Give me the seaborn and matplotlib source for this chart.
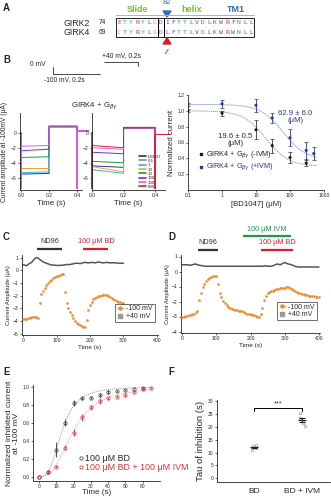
import numpy as np
import pandas as pd
import matplotlib
matplotlib.use("Agg")
import matplotlib.pyplot as plt
import seaborn as sns

sns.set_style("ticks")
plt.rcParams['font.family'] = ['Liberation Sans', 'DejaVu Sans']
plt.rcParams['axes.linewidth'] = 0.6
plt.rcParams['xtick.major.width'] = 0.5
plt.rcParams['ytick.major.width'] = 0.5
plt.rcParams['xtick.major.size'] = 1.5
plt.rcParams['ytick.major.size'] = 1.5
plt.rcParams['xtick.major.pad'] = 1
plt.rcParams['ytick.major.pad'] = 1

# ---------------- data ----------------
# A: alignment
seq_names = ["GIRK2", "GIRK4"]
seq_starts = ["74", "69"]
seq_text = ["ETYRYLCDIFTTLVDLKWRFNLL", "CTYRYLGDLFTTLVDLKWRWNLL"]

# B: current traces at -100 mV (start/end of step), +40 mV, and tail level
conc_labels = ["DMSO", "0.1", "1", "10", "30", "100", "300", "500"]
conc_colors = ["#2a2f8f", "#8a8a8a", "#2ab3e6", "#f2a22a", "#1f9b3c",
               "#7a2fbd", "#e35fd3", "#e01b2c"]
trace_noivm_keys = ["DMSO", "1", "10", "30", "100", "300"]
trace_noivm_start = [-5.5, -5.3, -4.7, -3.3, -2.4, -1.8]
trace_noivm_end = [-5.4, -5.2, -4.7, -3.2, -2.2, -1.7]
trace_noivm_step = [0.85, 0.8, 0.8, 0.8, 0.85, 0.75]
trace_noivm_tail = 0.25

trace_ivm_keys = ["DMSO", "1", "10", "30", "100", "300", "500"]
trace_ivm_start = [-4.4, -4.9, -4.5, -3.8, -2.6, -2.0, -1.7]
trace_ivm_end = [-4.6, -5.4, -5.2, -4.0, -2.8, -2.2, -2.0]
trace_ivm_step = [0.6, 0.6, 0.65, 0.6, 0.6, 0.6, 0.7]
trace_ivm_tail = -0.25
spike_level = -7.4

# B: dose response
bd_conc_noivm = [0.1, 1, 10, 30, 100, 300]
cur_noivm = [1.00, 0.97, 0.76, 0.56, 0.41, 0.34]
err_noivm = [0.02, 0.03, 0.12, 0.09, 0.07, 0.04]
bd_conc_ivm = [0.1, 1, 10, 30, 100, 300, 500]
cur_ivm = [1.08, 1.09, 1.07, 0.91, 0.66, 0.50, 0.46]
err_ivm = [0.02, 0.05, 0.08, 0.06, 0.11, 0.11, 0.08]
ic50_noivm, ic50_noivm_err = 19.6, 0.5
ic50_ivm, ic50_ivm_err = 62.9, 6.0

# C: time course, ND96 then 100 uM BD
c_time = list(range(0, 305, 5))
c_m100 = [-3.85, -3.85, -3.82, -3.8, -3.78, -3.72, -3.66, -3.65, -3.7, -3.75,
          -2.55, -1.9, -1.6, -1.38, -1.18, -1.0, -0.86, -0.75, -0.64, -0.55,
          -0.48, -0.42, -0.37, -0.33, -0.3, -1.75, -2.6, -3.0, -3.3, -3.55,
          -3.8, -4.0, -4.15, -4.25, -4.35, -4.4, -4.45, -4.45, -3.9, -3.15,
          -2.75, -2.5, -2.3, -2.2, -2.12, -2.05, -2.0, -1.97, -1.95, -1.93,
          -1.95, -2.0, -2.1, -2.2, -2.27, -2.35, -2.42, -2.48, -2.53, -2.57, -2.6]
c_p40 = [0.45, 0.4, 0.35, 0.45, 0.55, 0.6, 0.75, 0.9, 1.0, 0.95,
         0.85, 0.75, 0.65, 0.6, 0.55, 0.5, 0.45, 0.42, 0.4, 0.4,
         0.38, 0.38, 0.38, 0.4, 0.4, 0.42, 0.45, 0.45, 0.45, 0.48,
         0.5, 0.55, 0.55, 0.55, 0.52, 0.55, 0.6, 0.62, 0.6, 0.58,
         0.6, 0.62, 0.6, 0.58, 0.62, 0.65, 0.62, 0.6, 0.58, 0.6,
         0.62, 0.6, 0.58, 0.58, 0.6, 0.58, 0.57, 0.56, 0.55, 0.55, 0.55]
c_bars = [("ND96", 42, 117, "#333333"), ("100 μM BD", 180, 255, "#e0192b")]

# D: time course, ND96, 100 uM IVM then 100 uM BD
d_time = list(range(0, 405, 5))
d_m100 = [-3.0, -3.0, -2.98, -2.95, -2.92, -2.9, -2.85, -2.8, -2.72, -2.6,
          -1.9, -1.4, -1.05, -0.8, -0.62, -0.5, -0.42, -0.36, -0.32, -0.3,
          -0.3, -0.85, -1.4, -1.7, -1.95, -2.1, -2.25, -2.35, -2.42, -2.48,
          -2.52, -2.55, -2.58, -2.6, -2.62, -2.66, -2.7, -2.75, -2.8, -2.83,
          -2.86, -2.88, -2.92, -2.95, -3.0, -3.02, -2.85, -2.4, -1.9, -1.6,
          -1.45, -1.38, -1.32, -1.27, -1.22, -1.18, -1.15, -1.12, -1.1, -1.08,
          -1.08, -1.05, -1.05, -1.1, -1.18, -1.25, -1.32, -1.38, -1.42, -1.46,
          -1.5, -1.53, -1.56, -1.58, -1.6, -1.62, -1.64, -1.66, -1.68, -1.7, -1.72]
d_p40 = [0.45, 0.45, 0.45, 0.45, 0.42, 0.42, 0.45, 0.48, 0.5, 0.45,
         0.42, 0.4, 0.38, 0.36, 0.35, 0.35, 0.35, 0.35, 0.35, 0.35,
         0.35, 0.35, 0.35, 0.35, 0.35, 0.35, 0.35, 0.35, 0.35, 0.35,
         0.35, 0.35, 0.35, 0.35, 0.35, 0.35, 0.35, 0.35, 0.35, 0.35,
         0.35, 0.35, 0.35, 0.35, 0.35, 0.35, 0.35, 0.35, 0.38, 0.38,
         0.35, 0.35, 0.35, 0.38, 0.42, 0.48, 0.5, 0.45, 0.48, 0.55,
         0.6, 0.55, 0.5, 0.48, 0.45, 0.4, 0.35, 0.32, 0.3, 0.3,
         0.3, 0.3, 0.3, 0.3, 0.3, 0.3, 0.3, 0.3, 0.3, 0.3, 0.3]
d_bars = [("ND96", 47, 105, "#333333", 0), ("100 μM IVM", 177, 318, "#1e9a45", 1),
          ("100 μM BD", 230, 325, "#e0192b", 0)]

# E: normalised inhibition time course
e_time_bd = [0, 5, 10, 15, 20, 25, 30, 35, 40, 45, 50, 55, 60]
e_bd = [0.0, 0.05, 0.30, 0.60, 0.82, 0.87, 0.88, 0.91, 0.94, 0.95, 0.96, 0.98, 0.99]
e_bd_err = [0.0, 0.01, 0.08, 0.04, 0.03, 0.02, 0.02, 0.02, 0.02, 0.01, 0.01, 0.01, 0.01]
e_time_ivm = [0, 5, 10, 15, 20, 25, 30, 35, 40, 45, 50, 55, 60, 65]
e_ivm = [0.0, 0.05, 0.11, 0.32, 0.49, 0.66, 0.77, 0.84, 0.87, 0.89, 0.91, 0.94, 0.97, 0.99]
e_ivm_err = [0.0, 0.01, 0.02, 0.03, 0.04, 0.04, 0.03, 0.03, 0.02, 0.02, 0.02, 0.01, 0.01, 0.01]
e_t50 = [13.2, 19.7]
e_hill = [3.1, 2.8]

# F: tau of inhibition
f_groups = ["BD", "BD + IVM"]
f_tau_bd = [11.0, 11.6, 12.0, 12.4, 13.0]
f_tau_ivm = [20.3, 21.5, 22.5, 23.6, 25.4]

# ---------------- figure ----------------
W, H = 331, 500
fig = plt.figure(figsize=(W / 100, H / 100), dpi=100)


def rect(x0, y0, x1, y1):
    return [x0 / W, 1 - y1 / H, (x1 - x0) / W, (y1 - y0) / H]


ann = fig.add_axes([0, 0, 1, 1])
ann.set_xlim(0, W)
ann.set_ylim(H, 0)
ann.axis("off")
ann.patch.set_alpha(0)

TICK = 3.6
LAB = 5.6

for letter, (x, y) in zip("ABCDEF", [(3, 8), (3, 60), (3, 237), (168, 237), (3, 372), (168, 372)]):
    ann.text(x, y, letter, fontsize=7, fontweight="bold", va="center", ha="left")

# ---- A: alignment ----
aa_color = {}
for c in "AILMFWV":
    aa_color[c] = "#4a55c8"
for c in "KR":
    aa_color[c] = "#e0303c"
for c in "DE":
    aa_color[c] = "#c03cc8"
for c in "STNQ":
    aa_color[c] = "#3aa83a"
for c in "HY":
    aa_color[c] = "#2aa8b8"
aa_color["C"] = "#e07890"
aa_color["G"] = "#e89a30"
aa_color["P"] = "#d8c020"

x0_seq, dx = 116, 6.0
for row, (nm, st, sq) in enumerate(zip(seq_names, seq_starts, seq_text)):
    yy = 23 + row * 9.5
    ann.text(63, yy, nm, fontsize=6.3, va="center", ha="left")
    ann.text(99, yy, st, fontsize=4.8, va="center", ha="left")
    for i, ch in enumerate(sq):
        ann.text(x0_seq + dx * (i + 0.5), yy, ch, fontsize=4.6, family="DejaVu Sans Mono",
                 color=aa_color.get(ch, "#555555"), va="center", ha="center")
nseq = len(seq_text[0])
for (a, b) in [(0, 7), (7, 8), (8, nseq)]:
    ann.add_patch(plt.Rectangle((x0_seq + dx * a, 18), dx * (b - a), 19, fill=False, lw=0.6, ec="black"))
ann.plot([x0_seq, x0_seq + dx * 8], [15, 15], color="#9ccf5a", lw=0.7)
ann.plot([x0_seq + dx * 8, x0_seq + dx * nseq], [15, 15], color="#9ccf5a", lw=0.7)
ann.text(138, 9, "Slide", color="#7dbb3a", fontsize=6.5, va="center", ha="center", fontweight="bold")
ann.text(192, 9, "helix", color="#7dbb3a", fontsize=6.5, va="center", ha="center", fontweight="bold")
ann.text(236, 9, "TM1", color="#2f6fb8", fontsize=6.5, va="center", ha="center", fontweight="bold")
ann.text(167, 3, "82", color="#2f6fb8", fontsize=5.5, va="center", ha="center")
ann.add_patch(plt.Polygon([[163, 11], [171, 11], [167, 17]], color="#2f6fb8"))
ann.add_patch(plt.Polygon([[163, 44], [171, 44], [167, 38]], color="#e0192b"))
ann.text(167, 52, "//", color="#e0192b", fontsize=5.5, va="center", ha="center", style="italic")

# ---- B: voltage protocol ----
ann.text(121, 56, "+40 mV, 0.2s", fontsize=4.8, va="center", ha="center")
ann.plot([104, 138, 138], [62, 62, 66], color="black", lw=0.5)
ann.text(30, 65, "0 mV", fontsize=4.8, va="center", ha="left")
ann.plot([53, 53, 100], [67, 74, 74], color="black", lw=0.5)
ann.text(44, 80, "-100 mV, 0.2s", fontsize=4.8, va="center", ha="left")
ann.text(95, 106, "GIRK4 + G$_{\\beta\\gamma}$", fontsize=5.6, va="center", ha="center")
ann.text(54, 117, "(-IVM)", fontsize=5.6, va="center", ha="center")
ann.text(128, 117, "(+IVM)", fontsize=5.6, va="center", ha="center", color="#2a3590")

color_of = dict(zip(conc_labels, conc_colors))


def draw_traces(ax, keys, starts, ends, steps, tail, t_end):
    for k, a, b, p in zip(keys, starts, ends, steps):
        t = [0, 0, 0, 0.2, 0.2, 0.4, 0.4, 0.4, t_end]
        v = [0, spike_level, a, b, p, p, spike_level, tail, tail]
        sns.lineplot(x=t, y=v, ax=ax, color=color_of[k], lw=0.7, sort=False,
                     estimator=None, clip_on=False)


axb1 = fig.add_axes(rect(20, 113, 82, 190))
draw_traces(axb1, trace_noivm_keys, trace_noivm_start, trace_noivm_end,
            trace_noivm_step, trace_noivm_tail, 0.48)
axb1.set_xlim(-0.007, 0.436)
axb1.set_ylim(-7.6, 2.6)

axb2 = fig.add_axes(rect(92, 113, 165, 190))
draw_traces(axb2, trace_ivm_keys, trace_ivm_start, trace_ivm_end,
            trace_ivm_step, trace_ivm_tail, 0.495)
axb2.set_xlim(0, 0.463)
axb2.set_ylim(-7.6, 2.6)

for ax in (axb1, axb2):
    sns.despine(ax=ax)
    ax.set_xticks([0, 0.2, 0.4])
    ax.set_xticklabels(["0.0", "0.2", "0.4"])
    ax.set_yticks([0, -2, -4, -6])
    ax.tick_params(labelsize=TICK)
    ax.set_xlabel("Time (s)", fontsize=LAB, labelpad=1)
    ax.set_ylabel("")
axb1.set_ylabel("Current amplitude at -100mV (μA)", fontsize=4.8, labelpad=2)

leg_handles = [plt.Line2D([], [], color=c, lw=1.2) for c in conc_colors]
axb2.legend(leg_handles, conc_labels, loc="lower right", bbox_to_anchor=(0.98, -0.02),
            fontsize=3.2, frameon=False, handlelength=1.6, labelspacing=0.05,
            handletextpad=0.4, borderpad=0.1)

# ---- B: dose response ----
axdr = fig.add_axes(rect(188, 95, 324, 190))
dr = pd.DataFrame({"conc": bd_conc_noivm + bd_conc_ivm,
                   "cur": cur_noivm + cur_ivm,
                   "cond": ["-IVM"] * len(cur_noivm) + ["+IVM"] * len(cur_ivm)})
xs = np.logspace(-1, np.log10(600), 200)


def hill(x, top, bottom, ic50, n):
    return bottom + (top - bottom) / (1 + (x / ic50) ** n)


sns.lineplot(x=xs, y=hill(xs, cur_noivm[0], 0.3, ic50_noivm, 1.3), ax=axdr,
             color="#888888", lw=0.6, ls=(0, (1.5, 1)))
sns.lineplot(x=xs, y=hill(xs, cur_ivm[0], 0.38, ic50_ivm, 1.3), ax=axdr,
             color="#9fb0dd", lw=0.6)
axdr.errorbar(bd_conc_noivm, cur_noivm, yerr=err_noivm, fmt="none", ecolor="#333333",
              elinewidth=0.6, capsize=1.2, capthick=0.5)
axdr.errorbar(bd_conc_ivm, cur_ivm, yerr=err_ivm, fmt="none", ecolor="#2a3590",
              elinewidth=0.6, capsize=1.2, capthick=0.5)
sns.scatterplot(data=dr, x="conc", y="cur", hue="cond",
                palette={"-IVM": "#1a1a1a", "+IVM": "#2a3590"}, s=5, ax=axdr,
                linewidth=0, legend=False, zorder=5)
axdr.set_xscale("log")
axdr.set_xlim(0.1, 1000)
axdr.set_ylim(0, 1.2)
axdr.set_xticks([0.1, 1, 10, 100, 1000])
axdr.set_xticklabels(["0.1", "1", "10", "100", "1000"])
axdr.minorticks_off()
axdr.set_yticks([0.2, 0.4, 0.6, 0.8, 1.0, 1.2])
axdr.tick_params(labelsize=TICK)
sns.despine(ax=axdr)
axdr.set_xlabel("[BD1047] (μM)", fontsize=LAB, labelpad=2)
axdr.set_ylabel("Normalized current", fontsize=LAB, labelpad=2)
axdr.text(0.35, 0.53, f"{ic50_noivm} ± {ic50_noivm_err}\n(μM)", transform=axdr.transAxes,
          fontsize=5.6, ha="center", va="center", linespacing=0.95)
axdr.text(0.79, 0.77, f"{ic50_ivm} ± {ic50_ivm_err}\n(μM)", transform=axdr.transAxes,
          fontsize=5.6, ha="center", va="center", color="#2a3590", linespacing=0.95)
h1 = plt.Line2D([], [], marker="s", ms=2, ls="", color="#1a1a1a")
h2 = plt.Line2D([], [], marker="s", ms=2, ls="", color="#2a3590")
lg = axdr.legend([h1, h2], ["GIRK4 + G$_{\\beta\\gamma}$ (-IVM)", "GIRK4 + G$_{\\beta\\gamma}$ (+IVM)"],
                 loc="lower left", bbox_to_anchor=(0.05, 0.13), fontsize=5.2, frameon=False,
                 handlelength=0.5, handletextpad=0.4, labelspacing=0.1, borderpad=0.1)
lg.get_texts()[1].set_color("#2a3590")


# ---- C / D: time courses ----
def time_course(ax, t, m100, p40, ylim, yticks):
    sns.lineplot(x=t, y=p40, ax=ax, color="#555555", lw=1.1, estimator=None)
    sns.scatterplot(x=t, y=m100, ax=ax, color="#f08a2c", s=3.5, linewidth=0, zorder=4)
    ax.set_xlim(-3, 403)
    ax.set_ylim(*ylim)
    ax.set_xticks([0, 100, 200, 300, 400])
    ax.set_yticks(yticks)
    ax.tick_params(labelsize=TICK)
    sns.despine(ax=ax)
    ax.set_xlabel("Time (s)", fontsize=4.6, labelpad=1)
    ax.set_ylabel("Current Amplitude (μA)", fontsize=4.2, labelpad=1.5)
    h1 = plt.Line2D([], [], marker="o", ms=2.2, ls="-", lw=0.5, color="#f08a2c")
    h2 = plt.Line2D([], [], marker="s", ms=2.2, ls="", color="#999999")
    ax.legend([h1, h2], ["-100 mV", "+40 mV"], loc="lower right", bbox_to_anchor=(1.0, 0.12),
              fontsize=5, frameon=True, fancybox=False, edgecolor="black",
              handlelength=1.0, handletextpad=0.4, labelspacing=0.1, borderpad=0.25
              ).get_frame().set_linewidth(0.5)


axc = fig.add_axes(rect(22, 255, 158, 335))
time_course(axc, c_time, c_m100, c_p40, (-5.1, 1.2), [1, 0, -1, -2, -3, -4, -5])
trans_c = axc.get_xaxis_transform()
for lab, t0, t1, col in c_bars:
    axc.plot([t0, t1], [1.07, 1.07], color=col, lw=1.6, transform=trans_c, clip_on=False,
             solid_capstyle="butt")
    axc.text((t0 + t1) / 2, 1.17, lab, color=col, fontsize=5.2, ha="center", va="center",
             transform=trans_c)

axd = fig.add_axes(rect(181, 255, 320, 333))
time_course(axd, d_time, d_m100, d_p40, (-4.1, 1.1), [1, 0, -1, -2, -3, -4])
trans_d = axd.get_xaxis_transform()
for lab, t0, t1, col, lvl in d_bars:
    yb = 1.07 + 0.17 * lvl
    axd.plot([t0, t1], [yb, yb], color=col, lw=1.6, transform=trans_d, clip_on=False,
             solid_capstyle="butt")
    axd.text((t0 + t1) / 2, yb + 0.09, lab, color=col, fontsize=5.2, ha="center", va="center",
             transform=trans_d)

# ---- E: normalised inhibited current ----
axe = fig.add_axes(rect(33, 385, 160, 481))
ts = np.linspace(0, 66, 200)
for t50, nh, col in zip(e_t50, e_hill, ["#999999", "#f0a0a8"]):
    sns.lineplot(x=ts, y=ts ** nh / (ts ** nh + t50 ** nh), ax=axe, color=col, lw=0.6,
                 ls=(0, (1.5, 1)))
axe.errorbar(e_time_bd, e_bd, yerr=e_bd_err, fmt="o", mfc="none", mec="#333333",
             ecolor="#333333", ms=2.4, mew=0.5, elinewidth=0.6, capsize=0)
axe.errorbar(e_time_ivm, e_ivm, yerr=e_ivm_err, fmt="o", mfc="none", mec="#e0303c",
             ecolor="#e0303c", ms=2.4, mew=0.5, elinewidth=0.6, capsize=0)
axe.set_xlim(-3.5, 70)
axe.set_ylim(-0.05, 1.02)
axe.set_xticks([0, 10, 20, 30, 40, 50, 60])
axe.set_yticks([0.0, 0.2, 0.4, 0.6, 0.8, 1.0])
axe.set_yticklabels(["0.0", "0.2", "0.4", "0.6", "0.8", "1.0"])
axe.tick_params(labelsize=TICK)
sns.despine(ax=axe)
axe.set_xlabel("Time (s)", fontsize=5.8, labelpad=0)
axe.set_ylabel("Normalized inhibited current\nat -100 mV", fontsize=6.0, labelpad=2,
               linespacing=1.0)
eh1 = plt.Line2D([], [], marker="o", ms=2.4, mfc="none", mec="#333333", ls="", mew=0.5)
eh2 = plt.Line2D([], [], marker="o", ms=2.4, mfc="none", mec="#e0303c", ls="", mew=0.5)
lge = axe.legend([eh1, eh2], ["100 μM BD", "100 μM BD + 100 μM IVM"], loc="upper left",
                 bbox_to_anchor=(0.33, 0.33), fontsize=6.4, frameon=False, handlelength=0.4,
                 handletextpad=0.2, labelspacing=0.0, borderpad=0.0)
lge.get_texts()[1].set_color("#e0303c")

# ---- F: tau ----
axf = fig.add_axes(rect(217, 400, 330, 482))
fd = pd.DataFrame({"group": [f_groups[0]] * len(f_tau_bd) + [f_groups[1]] * len(f_tau_ivm),
                   "tau": f_tau_bd + f_tau_ivm})
sns.stripplot(data=fd, x="group", y="tau", ax=axf, color="white", edgecolor="#888888",
              linewidth=0.4, size=2.0, jitter=0.06, order=f_groups, zorder=2)
means = [np.mean(f_tau_bd), np.mean(f_tau_ivm)]
sems = [np.std(f_tau_bd, ddof=1) / np.sqrt(len(f_tau_bd)),
        np.std(f_tau_ivm, ddof=1) / np.sqrt(len(f_tau_ivm))]
axf.errorbar([0, 1], means, yerr=sems, fmt="_", color="#222222", ms=6, mew=0.8,
             elinewidth=0.7, capsize=2, capthick=0.6, zorder=3)
axf.set_xlim(-0.77, 1.58)
axf.set_ylim(-1.5, 30.5)
axf.set_yticks([0, 5, 10, 15, 20, 25, 30])
axf.tick_params(axis="y", labelsize=TICK)
axf.tick_params(axis="x", labelsize=6.0, length=0, pad=4)
sns.despine(ax=axf)
axf.set_xlabel("")
axf.set_ylabel("Tau of inhibition (s)", fontsize=6.8, labelpad=2)
axf.plot([0, 0, 1, 1], [26.2, 27.2, 27.2, 26.2], color="black", lw=0.7)
axf.text(0.5, 27.6, "***", fontsize=5.2, ha="center", va="bottom")

fig.savefig("out.png", dpi=100)
